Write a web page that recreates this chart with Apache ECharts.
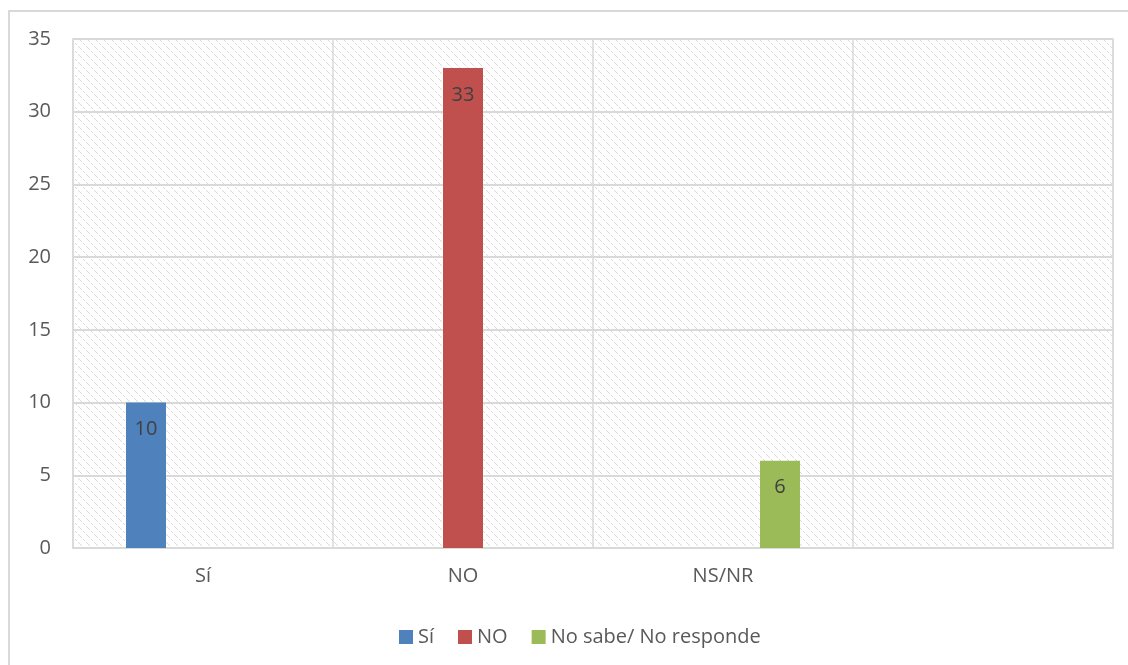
<!DOCTYPE html>
<html>
<head>
<meta charset="utf-8">
<script src="https://cdn.jsdelivr.net/npm/echarts@6/dist/echarts.min.js"></script>
<style>
  html, body { margin: 0; padding: 0; background: #fff; }
  #chart { width: 1128px; height: 665px; }
</style>
</head>
<body>
<div id="chart"></div>
<script>
// Categories on the x axis (last slot left empty)
const categories = ['Sí', 'NO', 'NS/NR', ''];
// One series per answer, each holding its value in its own category
const seriesNames = ['Sí', 'NO', 'No sabe/ No responde'];
const siValues = [10, null, null, null];
const noValues = [null, 33, null, null];
const nsnrValues = [null, null, 6, null];
const seriesColors = ['#4F81BD', '#C0504D', '#9BBB59'];

// Diagonal hatch used as the plot background
function makeHatch() {
  const c = document.createElement('canvas');
  c.width = 8; c.height = 8;
  const ctx = c.getContext('2d');
  ctx.fillStyle = '#ffffff';
  ctx.fillRect(0, 0, 8, 8);
  ctx.fillStyle = '#d9d9d9';
  for (let i = 0; i < 8; i++) {
    if (i % 3 !== 2) ctx.fillRect(i, i, 1, 1);
  }
  return c;
}

const font = '"Open Sans", "Noto Sans", sans-serif';
const chart = echarts.init(document.getElementById('chart'), null, { renderer: 'canvas' });

const valueLists = [siValues, noValues, nsnrValues];
const series = seriesNames.map((name, i) => ({
  name: name,
  type: 'bar',
  data: valueLists[i],
  barWidth: 40,
  barGap: '42.5%',
  itemStyle: { color: seriesColors[i] },
  label: {
    show: true,
    position: 'insideTop',
    distance: 17,
    color: '#404040',
    fontFamily: font,
    fontSize: 20
  }
}));

chart.setOption({
  animation: false,
  backgroundColor: '#ffffff',
  graphic: [{
    type: 'rect',
    shape: { x: 9, y: 11, width: 1200, height: 700 },
    style: { fill: 'none', stroke: '#d9d9d9', lineWidth: 2 },
    silent: true
  }],
  grid: {
    left: 73, top: 39, right: 15, bottom: 117,
    show: true,
    borderColor: '#d9d9d9',
    borderWidth: 1.5,
    backgroundColor: { image: makeHatch(), repeat: 'repeat' }
  },
  legend: {
    left: 394,
    top: 622,
    itemWidth: 14,
    itemHeight: 14,
    itemGap: 24,
    icon: 'rect',
    data: seriesNames,
    textStyle: { color: '#595959', fontFamily: font, fontSize: 20 }
  },
  xAxis: {
    type: 'category',
    data: categories,
    axisLine: { show: true, lineStyle: { color: '#d9d9d9', width: 2 } },
    axisTick: { show: false },
    splitLine: { show: true, lineStyle: { color: '#d9d9d9', width: 1.5 } },
    axisLabel: { color: '#595959', fontFamily: font, fontSize: 20, margin: 18, interval: 0 }
  },
  yAxis: {
    type: 'value',
    min: 0, max: 35, interval: 5,
    axisLine: { show: false },
    axisTick: { show: false },
    splitLine: { show: true, lineStyle: { color: '#d9d9d9', width: 2 } },
    axisLabel: { color: '#595959', fontFamily: font, fontSize: 20, margin: 22 }
  },
  series: series
});
</script>
</body>
</html>
